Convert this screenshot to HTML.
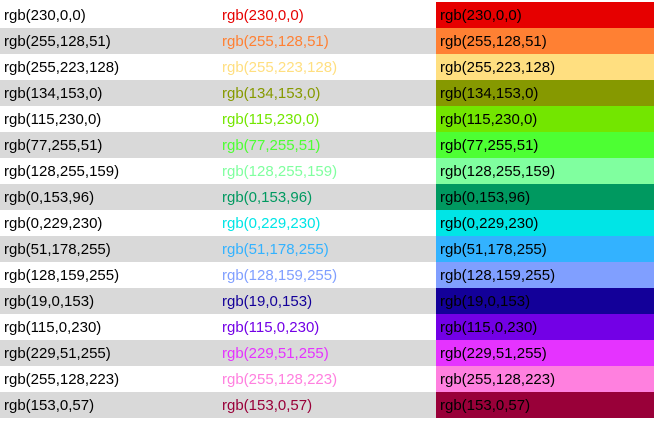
<!DOCTYPE html>
<html><head><meta charset="utf-8"><style>
body{margin:0;background:#fff;width:662px;height:424px;overflow:hidden;font-family:"Liberation Sans",Arial,sans-serif;font-size:15px}
table{position:absolute;top:2px;left:0;border-collapse:collapse}
td{height:26px;padding:0 0 0 4px;box-sizing:border-box;white-space:nowrap}
td.a{width:218px}td.b{width:218px}td.c{width:218px;color:#000}
tr:nth-child(even) td.a,tr:nth-child(even) td.b{background:#d9d9d9}
</style></head><body>
<table><tbody id="tb"></tbody></table>
<script>
const colors=[[230,0,0],[255,128,51],[255,223,128],[134,153,0],[115,230,0],[77,255,51],[128,255,159],[0,153,96],[0,229,230],[51,178,255],[128,159,255],[19,0,153],[115,0,230],[229,51,255],[255,128,223],[153,0,57]];
const tb=document.getElementById('tb');
colors.forEach(c=>{
 const s='rgb('+c.join(',')+')';
 const tr=document.createElement('tr');
 
 
 const a=document.createElement('td');a.className='a';a.textContent=s;
 
 
 const b=document.createElement('td');b.className='b';b.textContent=s;b.style.color=s;
 
 
 const d=document.createElement('td');d.className='c';d.textContent=s;d.style.background=s;
 
 
 tr.append(a,b,d);tb.appendChild(tr);
});
</script>
</body></html>
